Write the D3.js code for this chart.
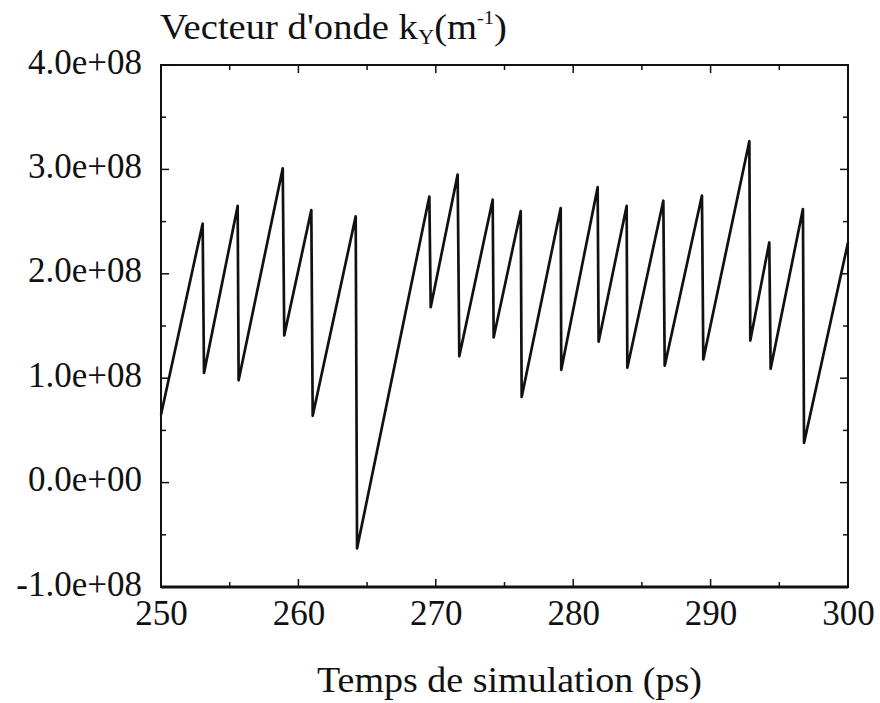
<!DOCTYPE html>
<html>
<head>
<meta charset="utf-8">
<script src="https://cdn.jsdelivr.net/npm/d3@7"></script>
<style>
  html, body { margin: 0; padding: 0; background: #fff; }
  svg { display: block; }
  text { font-family: "Liberation Serif", "Times New Roman", serif; fill: #111; }
</style>
</head>
<body>
<svg id="chart" width="880" height="703"></svg>
<script>
// ---- data ----
const time = [250, 253.03, 253.13, 255.58, 255.65, 258.86, 258.97, 260.94, 261.04, 264.17, 264.27,
  269.53, 269.63, 271.59, 271.71, 274.14, 274.21, 276.18, 276.25, 279.09, 279.13, 281.78, 281.85,
  283.89, 283.94, 286.56, 286.66, 289.37, 289.47, 292.82, 292.89, 294.27, 294.37, 296.72, 296.80, 300];
const ky = [0.65e8, 2.48e8, 1.05e8, 2.65e8, 0.98e8, 3.01e8, 1.41e8, 2.61e8, 0.64e8, 2.55e8, -0.63e8,
  2.74e8, 1.68e8, 2.95e8, 1.21e8, 2.71e8, 1.39e8, 2.60e8, 0.82e8, 2.63e8, 1.08e8, 2.83e8, 1.35e8,
  2.65e8, 1.10e8, 2.70e8, 1.12e8, 2.75e8, 1.18e8, 3.27e8, 1.36e8, 2.30e8, 1.09e8, 2.62e8, 0.38e8, 2.30e8];
const xTicks = [250, 260, 270, 280, 290, 300];
const xMinorTicks = [255, 265, 275, 285, 295];
const yTicks = [-1e8, 0, 1e8, 2e8, 3e8, 4e8];
const yTickLabels = ["-1.0e+08", "0.0e+00", "1.0e+08", "2.0e+08", "3.0e+08", "4.0e+08"];
const yMinorTicks = [-0.5e8, 0.5e8, 1.5e8, 2.5e8, 3.5e8];
const xTitle = "Temps de simulation (ps)";

// ---- layout ----
const svg = d3.select("#chart");
const m = { left: 161, top: 65, right: 32, bottom: 116 };
const W = 880, H = 703;
const x = d3.scaleLinear().domain([250, 300]).range([m.left, W - m.right]);
const y = d3.scaleLinear().domain([-1e8, 4e8]).range([H - m.bottom, m.top]);

const data = time.map((t, i) => ({ t, v: ky[i] }));

// frame
svg.append("rect")
  .attr("x", x(250)).attr("y", y(4e8))
  .attr("width", x(300) - x(250)).attr("height", y(-1e8) - y(4e8))
  .attr("fill", "none").attr("stroke", "#111").attr("stroke-width", 2);
svg.append("line")
  .attr("x1", x(250)).attr("x2", x(300)).attr("y1", y(-1e8)).attr("y2", y(-1e8))
  .attr("stroke", "#111").attr("stroke-width", 3);

// ticks (inward, all four sides)
const tickLine = (x1, y1, x2, y2) => svg.append("line")
  .attr("x1", x1).attr("y1", y1).attr("x2", x2).attr("y2", y2)
  .attr("stroke", "#111").attr("stroke-width", 1.5);
const MAJ = 8, MIN = 5;
xTicks.forEach(t => { tickLine(x(t), y(-1e8), x(t), y(-1e8) - MAJ); tickLine(x(t), y(4e8), x(t), y(4e8) + MAJ); });
xMinorTicks.forEach(t => { tickLine(x(t), y(-1e8), x(t), y(-1e8) - MIN); tickLine(x(t), y(4e8), x(t), y(4e8) + MIN); });
yTicks.forEach(v => { tickLine(x(250), y(v), x(250) + MAJ, y(v)); tickLine(x(300), y(v), x(300) - MAJ, y(v)); });
yMinorTicks.forEach(v => { tickLine(x(250), y(v), x(250) + MIN, y(v)); tickLine(x(300), y(v), x(300) - MIN, y(v)); });

// tick labels via axes
const xAxis = d3.axisBottom(x).tickValues(xTicks).tickSize(0).tickPadding(0).tickFormat(d3.format("d"));
const gx = svg.append("g").attr("transform", `translate(0,${y(-1e8)})`).call(xAxis);
gx.select(".domain").remove();
gx.selectAll("text").attr("font-size", 35).attr("font-family", "Liberation Serif, serif")
  .attr("fill", "#111").attr("dy", null).attr("y", 38);

const yAxis = d3.axisLeft(y).tickValues(yTicks).tickSize(0).tickPadding(0)
  .tickFormat((d, i) => yTickLabels[i]);
const gy = svg.append("g").attr("transform", `translate(${x(250) - 19},0)`).call(yAxis);
gy.select(".domain").remove();
gy.selectAll("text").attr("font-size", 35).attr("font-family", "Liberation Serif, serif")
  .attr("fill", "#111").attr("dy", null).attr("y", 8);

// the series
const line = d3.line().x(d => x(d.t)).y(d => y(d.v));
svg.append("path").datum(data)
  .attr("d", line)
  .attr("fill", "none").attr("stroke", "#111").attr("stroke-width", 2.7)
  .attr("stroke-linejoin", "round").attr("stroke-linecap", "butt");

// y title (top), stretched to the reference width
const ytG = svg.append("g");
const yt = ytG.append("text").attr("x", 0).attr("y", 0).attr("font-size", 36);
yt.append("tspan").text("Vecteur d'onde k");
yt.append("tspan").text("Y").attr("font-size", 21).attr("dy", 5);
yt.append("tspan").text("(m").attr("dy", -5);
yt.append("tspan").text("-1").attr("font-size", 19).attr("dy", -15);
yt.append("tspan").text(")").attr("dy", 15);
const ytW = yt.node().getBBox().width;
ytG.attr("transform", `translate(160,39) scale(${347 / ytW},1)`);

// x title, stretched to the reference width
const xtG = svg.append("g");
const xt = xtG.append("text").attr("x", 0).attr("y", 0).attr("font-size", 36).text(xTitle);
const xtW = xt.node().getBBox().width;
xtG.attr("transform", `translate(317,692) scale(${385 / xtW},1)`);
</script>
</body>
</html>
